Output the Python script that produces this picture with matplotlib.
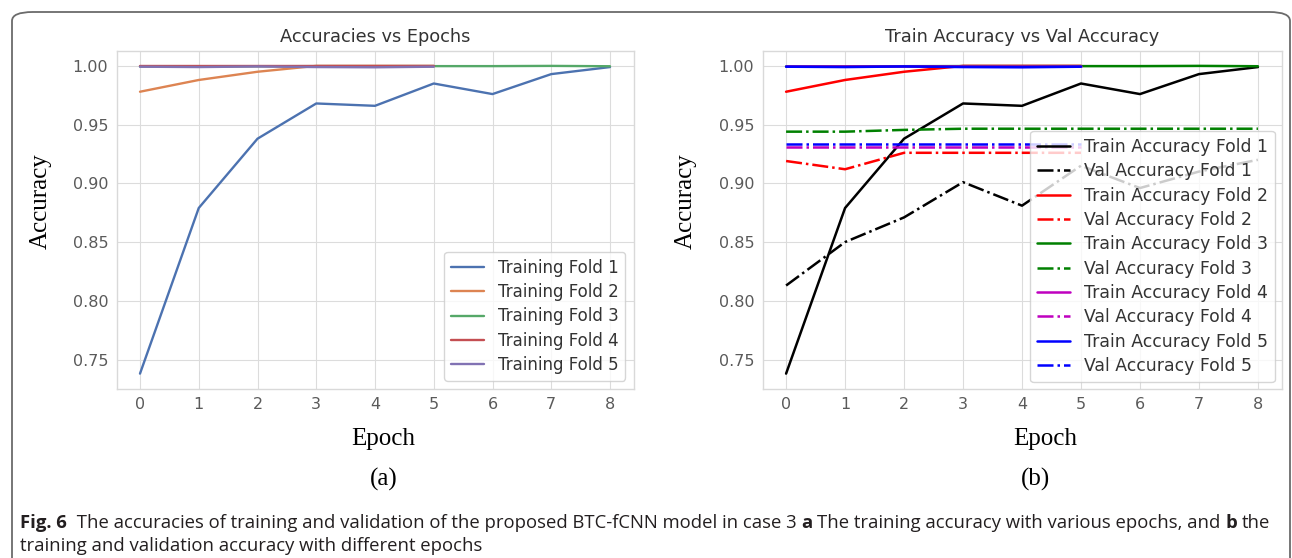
import matplotlib
matplotlib.use("Agg")
import matplotlib.pyplot as plt
from matplotlib.patches import FancyBboxPatch

# accuracy per epoch for each fold (folds 2, 4 and 5 stopped after epoch 5)
epochs_full = [0, 1, 2, 3, 4, 5, 6, 7, 8]
epochs_short = [0, 1, 2, 3, 4, 5]

train_fold1 = [0.738, 0.879, 0.938, 0.968, 0.966, 0.985, 0.976, 0.993, 0.999]
train_fold2 = [0.978, 0.988, 0.995, 1.000, 1.000, 1.000]
train_fold3 = [0.9995, 0.9995, 0.9997, 0.9998, 0.9998, 0.9998, 0.9998, 1.000, 0.9997]
train_fold4 = [1.000, 1.000, 1.000, 1.000, 1.000, 1.000]
train_fold5 = [0.9993, 0.9990, 0.9995, 0.9990, 0.9988, 0.9993]

val_fold1 = [0.813, 0.850, 0.871, 0.901, 0.881, 0.915, 0.896, 0.910, 0.920]
val_fold2 = [0.919, 0.912, 0.926, 0.926, 0.926, 0.926]
val_fold3 = [0.944, 0.944, 0.9455, 0.9465, 0.9465, 0.9465, 0.9465, 0.9465, 0.9465]
val_fold4 = [0.931, 0.931, 0.931, 0.931, 0.931, 0.931]
val_fold5 = [0.9335, 0.9335, 0.9335, 0.9335, 0.9335, 0.9335]

W, H = 1292, 558
plt.style.use('seaborn-v0_8-whitegrid')
plt.rcParams.update({
    "axes.edgecolor": "#d9d9d9",
    "grid.color": "#dcdcdc",
    "xtick.color": "#5a5a5a",
    "ytick.color": "#5a5a5a",
    "xtick.labelsize": 11.5,
    "ytick.labelsize": 11.5,
    "text.color": "#333333",
})
plt.rcParams['font.family'] = ['DejaVu Sans']

fig = plt.figure(figsize=(W / 100, H / 100), dpi=100)


def px_axes(x0, x1, y0, y1):
    return fig.add_axes([x0 / W, 1 - y1 / H, (x1 - x0) / W, (y1 - y0) / H])


# (a) training accuracy only
ax1 = px_axes(116.5, 633.5, 50.5, 389)
deep = ["#4C72B0", "#DD8452", "#55A868", "#C44E52", "#8172B3"]
ax1.plot(epochs_full, train_fold1, color=deep[0], lw=1.7, label="Training Fold 1")
ax1.plot(epochs_short, train_fold2, color=deep[1], lw=1.7, label="Training Fold 2")
ax1.plot(epochs_full, train_fold3, color=deep[2], lw=1.7, label="Training Fold 3")
ax1.plot(epochs_short, train_fold4, color=deep[3], lw=1.7, label="Training Fold 4")
ax1.plot(epochs_short, train_fold5, color=deep[4], lw=1.7, label="Training Fold 5")
ax1.set_title("Accuracies vs Epochs", fontsize=12.8, color="#333333")
ax1.set_xticks(epochs_full)
ax1.legend(loc="lower right", frameon=True, fontsize=12, labelspacing=0.38)

# (b) training vs validation
ax2 = px_axes(762.5, 1281.5, 50.5, 389)
fold_colors = ["k", "r", "g", "m", "b"]
trains = [train_fold1, train_fold2, train_fold3, train_fold4, train_fold5]
vals = [val_fold1, val_fold2, val_fold3, val_fold4, val_fold5]
for i, (tr, va) in enumerate(zip(trains, vals)):
    xs = epochs_full if len(tr) == 9 else epochs_short
    ax2.plot(xs, tr, color=fold_colors[i], lw=1.8, label=f"Train Accuracy Fold {i + 1}")
    ax2.plot(xs, va, color=fold_colors[i], lw=1.8, ls="-.", label=f"Val Accuracy Fold {i + 1}")
ax2.set_title("Train Accuracy vs Val Accuracy", fontsize=12.8, color="#333333")
ax2.set_xticks(epochs_full)
ax2.legend(loc="lower right", frameon=True, fontsize=12.4, labelspacing=0.37,
           handlelength=1.9, borderaxespad=0.4)

for ax in (ax1, ax2):
    ax.set_yticks([0.75, 0.80, 0.85, 0.90, 0.95, 1.00])
    ax.tick_params(length=0, pad=6)
    for s in ax.spines.values():
        s.set_linewidth(1.0)

# axis labels and panel tags in serif
serif = dict(family="Liberation Serif", color="black", fontsize=18)
fig.text(41 / W, 1 - 201 / H, "Accuracy", rotation=90, ha="center", va="center", **serif)
fig.text(686 / W, 1 - 201 / H, "Accuracy", rotation=90, ha="center", va="center", **serif)
fig.text(383 / W, 1 - 439 / H, "Epoch", ha="center", va="center", **serif)
fig.text(1045 / W, 1 - 439 / H, "Epoch", ha="center", va="center", **serif)
fig.text(384 / W, 1 - 479 / H, "(a)", ha="center", va="center", **serif)
fig.text(1035 / W, 1 - 479 / H, "(b)", ha="center", va="center", **serif)

# rounded figure frame
frame = FancyBboxPatch((12 / W, -0.05), (1290 - 12) / W, (H - 12) / H + 0.05,
                       boxstyle="round,pad=0,rounding_size=0.016",
                       transform=fig.transFigure, fill=False,
                       edgecolor="#6b6b6b", lw=1.3, clip_on=False)
fig.patches.append(frame)

# caption, drawn run by run so bold pieces line up
renderer = fig.canvas.get_renderer()
cap_font = dict(family="Open Sans", fontsize=13.3, color="#231f20")


def draw_runs(x, y, runs):
    for text, weight in runs:
        t = fig.text(x / W, 1 - y / H, text, ha="left", va="baseline",
                     fontweight=weight, **cap_font)
        bb = t.get_window_extent(renderer)
        x = bb.x1 + 4.8


draw_runs(20, 528, [
    ("Fig. 6", "bold"),
    (" The accuracies of training and validation of the proposed BTC-fCNN model in case 3", "normal"),
    ("a", "bold"),
    ("The training accuracy with various epochs, and", "normal"),
    ("b", "bold"),
    ("the", "normal"),
])
draw_runs(20, 551, [("training and validation accuracy with different epochs", "normal")])

fig.savefig("out.png", dpi=100)
